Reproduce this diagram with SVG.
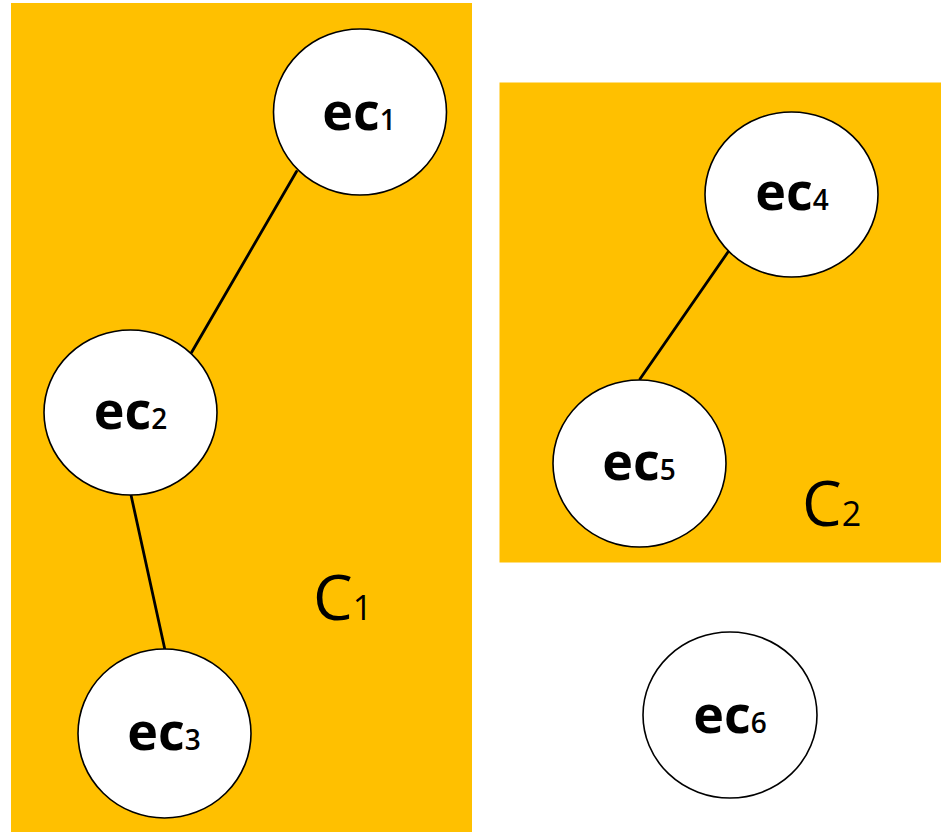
<svg xmlns="http://www.w3.org/2000/svg" width="941" height="832" viewBox="0 0 941 832">
  <style>
    .cluster { fill: #FFC000; }
    .node { fill: #FFFFFF; stroke: #000000; stroke-width: 1.6; }
    .edge { stroke: #000000; stroke-width: 2.8; fill: none; stroke-linecap: round; }
    .lbl { font-family: "Open Sans", "Noto Sans", "Liberation Sans", sans-serif; font-weight: 700; font-size: 52px; fill: #000000; text-anchor: middle; }
    .lbl tspan { font-size: 28px; font-weight: 600; }
    .clbl { font-family: "Open Sans", "Noto Sans", "Liberation Sans", sans-serif; font-weight: 400; font-size: 63px; fill: #000000; }
    .clbl tspan { font-size: 34px; }
  </style>

  <!-- clusters -->
  <g id="cluster-C1">
    <rect class="cluster" x="11" y="3" width="461" height="830"/>
    <text class="clbl" x="313" y="620">C<tspan>1</tspan></text>
  </g>
  <g id="cluster-C2">
    <rect class="cluster" x="499.5" y="82.5" width="442" height="480"/>
    <text class="clbl" x="802" y="526">C<tspan>2</tspan></text>
  </g>

  <!-- connectors -->
  <g id="edges">
    <line class="edge" x1="296.5" y1="171.5" x2="191.5" y2="352.5"/>
    <line class="edge" x1="131" y1="495" x2="165" y2="650"/>
    <line class="edge" x1="728" y1="252" x2="640" y2="379"/>
  </g>

  <!-- nodes -->
  <g id="ec1">
    <ellipse class="node" cx="360" cy="112" rx="86.5" ry="83"/>
    <text class="lbl" x="359" y="130">ec<tspan>1</tspan></text>
  </g>
  <g id="ec2">
    <ellipse class="node" cx="130.5" cy="412.5" rx="86.5" ry="82.5"/>
    <text class="lbl" x="130.5" y="429">ec<tspan>2</tspan></text>
  </g>
  <g id="ec3">
    <ellipse class="node" cx="164.5" cy="733.5" rx="86.5" ry="84.5"/>
    <text class="lbl" x="164" y="750">ec<tspan>3</tspan></text>
  </g>
  <g id="ec4">
    <ellipse class="node" cx="791.5" cy="194.5" rx="86.5" ry="82.5"/>
    <text class="lbl" x="792" y="210">ec<tspan>4</tspan></text>
  </g>
  <g id="ec5">
    <ellipse class="node" cx="639.5" cy="463.5" rx="86.5" ry="83.5"/>
    <text class="lbl" x="639" y="480">ec<tspan>5</tspan></text>
  </g>
  <g id="ec6">
    <ellipse class="node" cx="730" cy="715" rx="87" ry="83"/>
    <text class="lbl" x="730" y="733">ec<tspan>6</tspan></text>
  </g>
</svg>
